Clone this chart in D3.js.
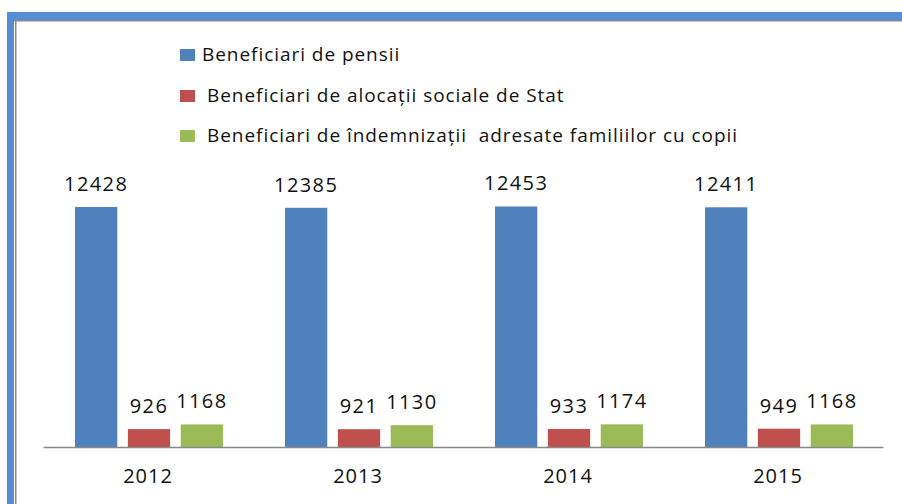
<!DOCTYPE html>
<html>
<head>
<meta charset="utf-8">
<script src="https://cdn.jsdelivr.net/npm/d3@7"></script>
<style>
  body { margin: 0; background: #fff; }
  svg { display: block; font-family: "Open Sans", sans-serif; }
</style>
</head>
<body>
<div class="chart"></div>
<script>
var years = ["2012", "2013", "2014", "2015"];
var seriesNames = [
  "Beneficiari de pensii",
  "Beneficiari de alocații sociale de Stat",
  "Beneficiari de îndemnizații  adresate familiilor cu copii"
];
var pensii = [12428, 12385, 12453, 12411];
var alocatii = [926, 921, 933, 949];
var indemnizatii = [1168, 1130, 1174, 1168];
var colors = ["#4f81bd", "#c0504d", "#9bbb59"];

var width = 902, height = 504;
var series = [pensii, alocatii, indemnizatii];

var svg = d3.select(".chart").append("svg")
  .attr("width", width)
  .attr("height", height);

// frame: blue band on top and left with a grey inner line
svg.append("rect").attr("x", 7).attr("y", 12).attr("width", width - 7).attr("height", 8).attr("fill", "#558ed5");
svg.append("rect").attr("x", 7).attr("y", 12).attr("width", 7).attr("height", height - 12).attr("fill", "#558ed5");
svg.append("rect").attr("x", 14).attr("y", 20).attr("width", width - 14).attr("height", 1.5).attr("fill", "#8a8a8a");
svg.append("rect").attr("x", 15).attr("y", 20).attr("width", 1.5).attr("height", height - 20).attr("fill", "#8a8a8a");

var x0 = d3.scaleBand().domain(years).range([43, 883]);
var x1 = d3.scaleBand().domain(d3.range(3)).range([32, 180]).paddingInner(0.2);
var y = d3.scaleLinear().domain([0, 14000]).range([447, 176.6]);

var groups = svg.selectAll(".year")
  .data(years)
  .enter().append("g")
    .attr("class", "year")
    .attr("transform", function(d) { return "translate(" + x0(d) + ",0)"; });

groups.selectAll("rect")
  .data(function(d, i) { return series.map(function(s, k) { return { k: k, v: s[i] }; }); })
  .enter().append("rect")
    .attr("x", function(d) { return x1(d.k); })
    .attr("y", function(d) { return y(d.v); })
    .attr("width", x1.bandwidth())
    .attr("height", function(d) { return y(0) - y(d.v); })
    .attr("fill", function(d) { return colors[d.k]; });

groups.selectAll(".val")
  .data(function(d, i) { return series.map(function(s, k) { return { k: k, v: s[i] }; }); })
  .enter().append("text")
    .attr("class", "val")
    .attr("x", function(d) { return x1(d.k) + x1.bandwidth() / 2; })
    .attr("y", function(d) { return y(d.v) - 16; })
    .attr("text-anchor", "middle")
    .attr("font-size", "20px")
    .attr("letter-spacing", "1.4px")
    .attr("fill", "#111")
    .text(function(d) { return d.v; });

// x axis
svg.append("g")
  .attr("transform", "translate(0," + y(0) + ")")
  .call(d3.axisBottom(x0).tickSize(0).tickPadding(22))
  .call(function(g) {
    g.select(".domain").attr("stroke", "#888").attr("stroke-width", 1.5);
    g.selectAll("text")
      .attr("font-size", "20px")
      .attr("letter-spacing", "1px")
      .attr("fill", "#111")
      .attr("font-family", "Open Sans, sans-serif");
  });

// legend
var legendY = [55, 96, 136];
var legendTextX = [202, 207, 207];
var legend = svg.selectAll(".legend")
  .data(seriesNames)
  .enter().append("g")
    .attr("class", "legend");

legend.append("rect")
  .attr("x", 180)
  .attr("y", function(d, i) { return legendY[i] - 6; })
  .attr("width", 15)
  .attr("height", 12)
  .attr("fill", function(d, i) { return colors[i]; });

legend.append("text")
  .attr("x", function(d, i) { return legendTextX[i]; })
  .attr("y", function(d, i) { return legendY[i] + 6; })
  .attr("font-size", "19px")
  .attr("letter-spacing", "0.95px")
  .attr("fill", "#111")
  .style("white-space", "pre")
  .text(function(d) { return d; });
</script>
</body>
</html>
